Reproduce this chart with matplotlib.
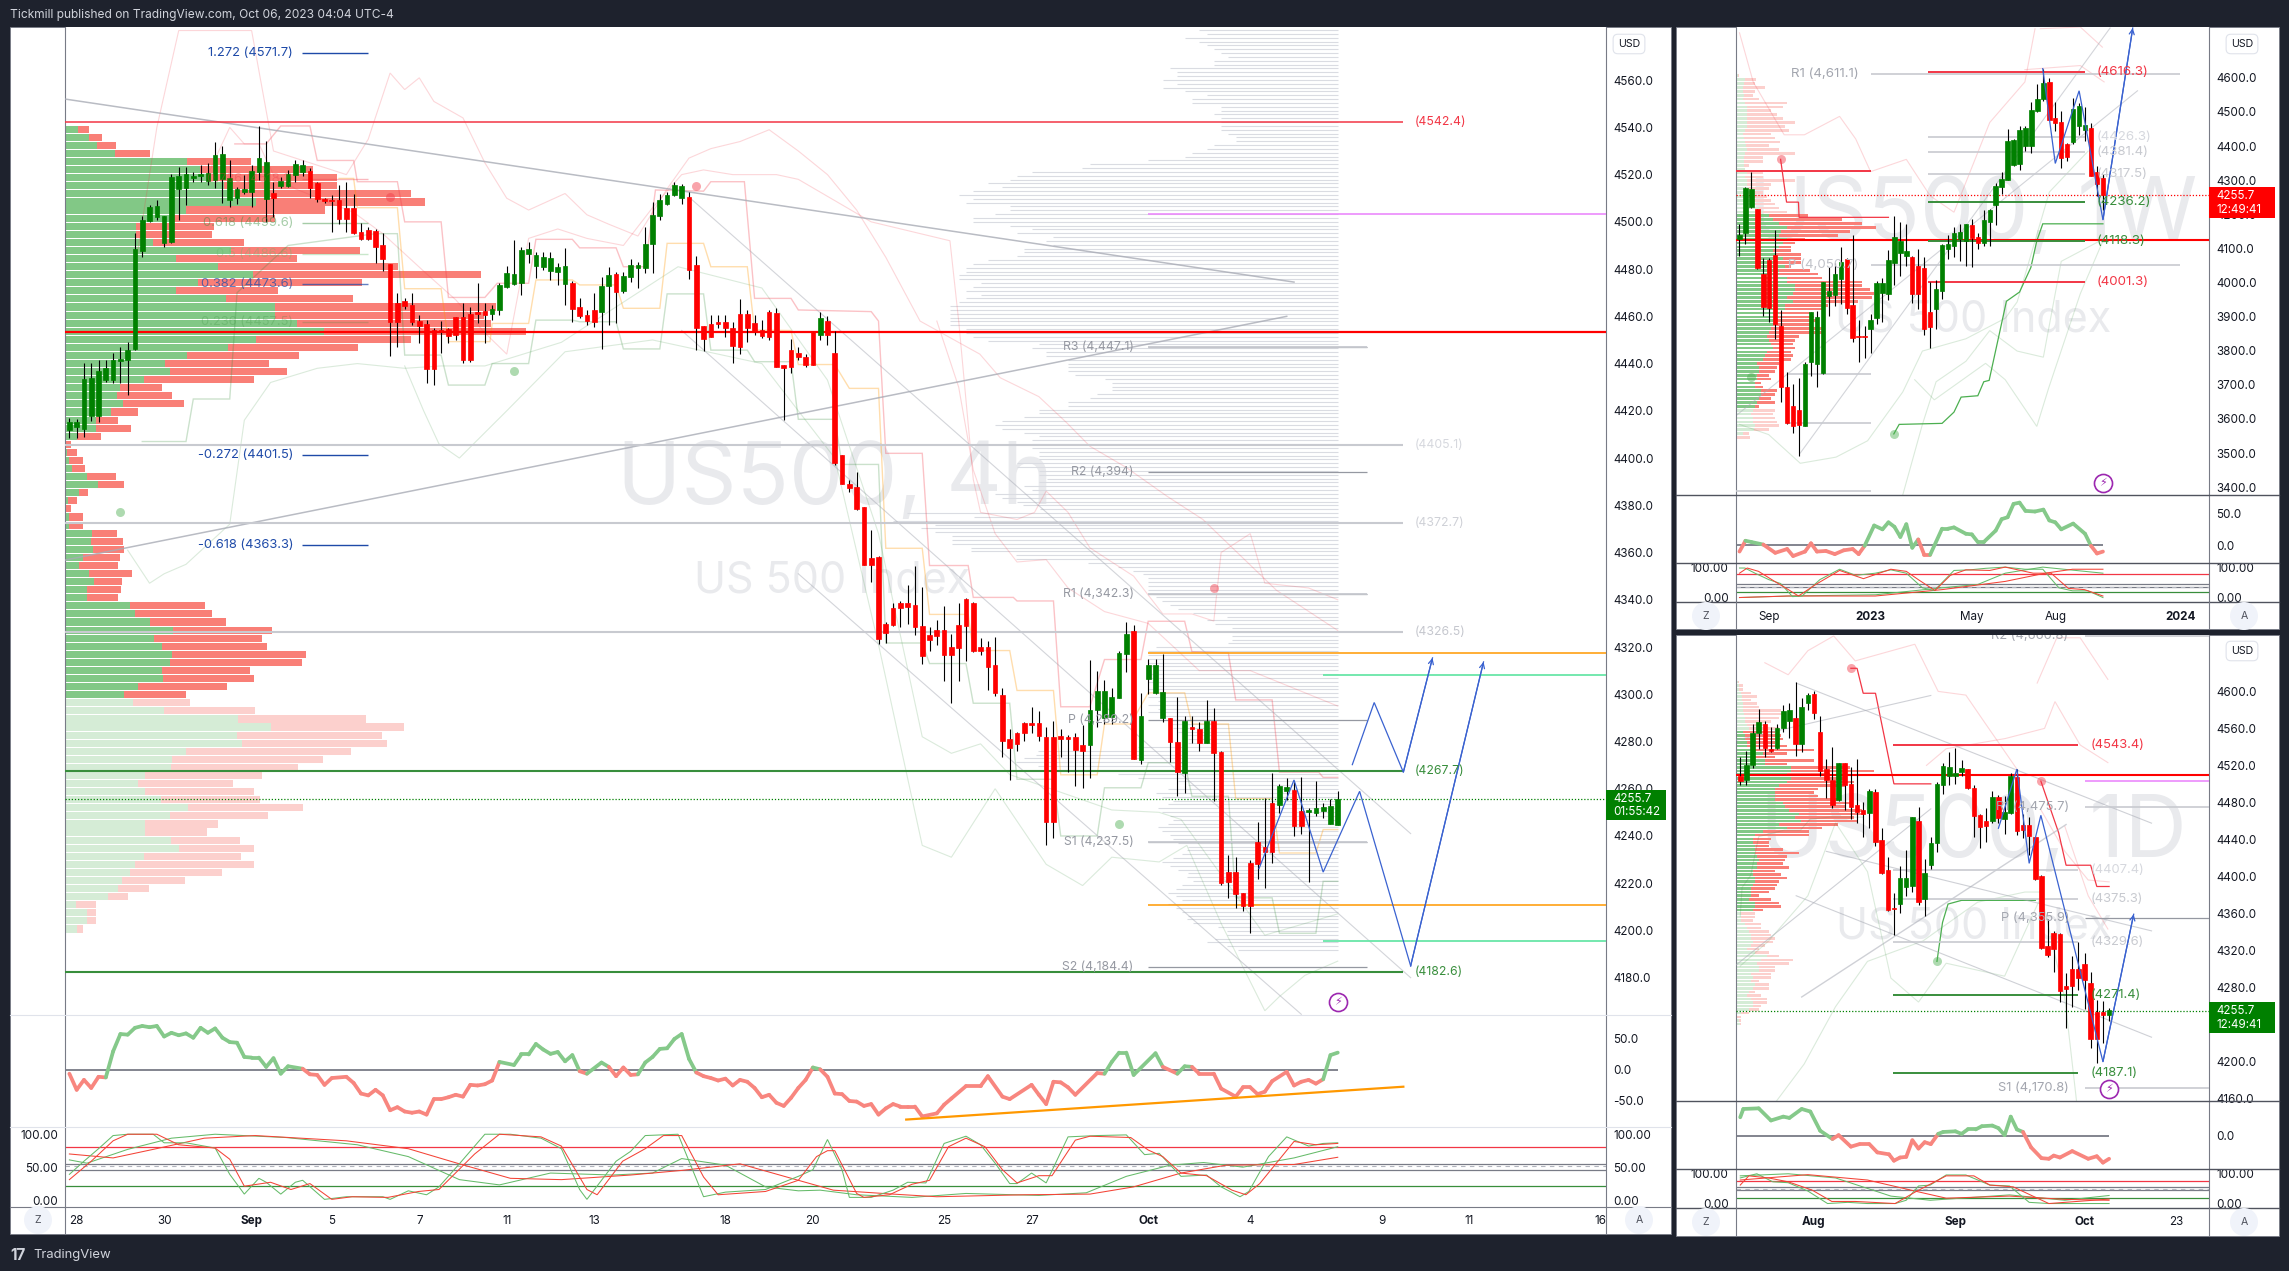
import numpy as np
import matplotlib
matplotlib.use("Agg")
import matplotlib.pyplot as plt
from matplotlib.patches import Rectangle, Ellipse
from matplotlib.lines import Line2D
from matplotlib.collections import LineCollection

W, H = 2289, 1271

# ---- 4h chart
main_open = [4411.9,4413,4412.3,4418,4417.8,4433,4433,4441.2,4441.5,4446.2,
	4487.7,4500.4,4501.9,4490.9,4491.6,4513.9,4514.2,4518.7,4519.4,4517.3,
	4517.7,4518,4509.2,4510,4512.5,4512.5,4521,4509.7,4512.3,4515.2,
	4515.2,4519.8,4521,4521.5,4516.6,4509.7,4509.2,4509.2,4506,4506,
	4495.8,4496.5,4496.1,4490.2,4482.1,4465.5,4466.3,4464.8,4458,4456.8,
	4454.2,4454.2,4454.5,4459.9,4459.9,4461,4461.8,4462.4,4461,4462.7,
	4472.5,4473.7,4474,4486.4,4481.3,4481,4479.3,4478.6,4473.8,4474,
	4463.8,4460.6,4462.7,4461.8,4472.8,4477.9,4470.7,4476.5,4480.5,4480.5,
	4490.6,4502.5,4507.5,4511.4,4510.2,4510.6,4481.7,4455.9,4456.6,4457.7,
	4457.7,4454.9,4461,4461,4457.3,4454.2,4461.7,4461.5,4439.4,4445.7,
	4444.4,4442.7,4453.3,4452.2,4458,4444.4,4401.3,4389,4387.7,4379.3,
	4357.7,4358.1,4329.7,4336.7,4338.5,4338.8,4337.7,4328.7,4325,4327.4,
	4327.1,4319.9,4329.3,4340.4,4338.8,4319.8,4319.8,4312.2,4299.5,4280.9,
	4283.8,4287.7,4288,4287.7,4281.9,4281.9,4282.3,4281.9,4281.9,4278.5,
	4278.5,4293.3,4290.1,4290.4,4298.6,4317,4326.8,4272.2,4306.5,4300.5,
	4289.9,4289.9,4279.8,4266.7,4286.1,4285.3,4279.4,4288.7,4275.6,4224.8,
	4224.8,4215.9,4228.6,4237.5,4235.3,4254,4253.1,4259,4259.5,4250.6,
	4250.1,4249.7,4250.6,4245.1,4244.7]
main_close = [4415.4,4415.3,4433.5,4434,4436.9,4438.1,4441.5,4442,4445.7,4488.5,
	4500.8,4506.4,4506.7,4502.5,4519.1,4519.4,4520.2,4519.4,4520.2,4520.8,
	4528.3,4528.7,4518.7,4513.8,4513.9,4521.5,4527,4525.3,4510.2,4517.4,
	4520.4,4524.5,4524,4514.2,4509.7,4508.7,4508.8,4501.2,4501.2,4495.4,
	4492.7,4492.7,4489.5,4484.3,4457.7,4457.7,4464.4,4457.7,4456,4437.6,
	4437.6,4453.5,4451.8,4452.1,4441.5,4441.5,4461,4460.6,4463.1,4473.3,
	4478.2,4477.9,4488,4488.4,4486,4485,4484.5,4481,4481.3,4463.2,
	4460.1,4458.2,4457.6,4472.8,4477.5,4470.3,4477.1,4481.7,4481.7,4490.6,
	4502.9,4509.2,4511.4,4515.6,4515.2,4479.6,4455,4450.4,4451.1,4456.8,
	4454.9,4447.6,4446.9,4454.9,4453.5,4451.8,4451.4,4438.7,4438.3,4438.4,
	4442.9,4439.6,4439.5,4459.3,4452.2,4397.7,4389.1,4387.3,4378.4,4354.8,
	4354.8,4323.2,4326,4329.4,4336.6,4337,4328.5,4316.3,4323,4324.6,
	4316.6,4316.6,4319.5,4329,4318.3,4318.5,4311.5,4300.6,4280.4,4277.2,
	4279,4283.5,4287.1,4282.3,4245.9,4245.9,4280.9,4281.2,4276.4,4276,
	4293.3,4301.4,4301.4,4298.8,4317.5,4325.5,4272.6,4290.8,4312.4,4312.4,
	4301,4279.9,4267.1,4288.7,4285.3,4279.4,4288.7,4275.1,4220.1,4220.5,
	4215.4,4210.4,4210.4,4228.3,4233.2,4233.2,4261.2,4260.7,4244.2,4244.2,
	4251.1,4251.9,4252.3,4252.7,4255.7]
main_high = [4416.8,4416.4,4440.1,4440.1,4441.5,4441.5,4444.3,4447.2,4449.3,4495.1,
	4502.5,4507.1,4509.2,4502.5,4520.2,4523.4,4523.4,4521.2,4524,4524.8,
	4533.6,4532.2,4526.2,4514.9,4519.8,4524,4540.4,4534.2,4517,4519.1,
	4522,4526.2,4526.2,4522.6,4517,4509.9,4511.4,4515.6,4517,4512,
	4499.6,4498,4496.8,4495.1,4482.1,4469.7,4467.6,4469.7,4460.6,4458.4,
	4454.9,4458,4454.9,4459.9,4465.5,4464.1,4474,4465.5,4464.8,4474.2,
	4481.3,4492.3,4489.2,4491.6,4487.4,4487.4,4487.4,4482.4,4488.8,4475,
	4467.6,4462.7,4469.7,4476.8,4481,4478.9,4478.9,4484.1,4483.1,4498,
	4508.5,4512,4512.8,4516.7,4516,4512.8,4485.5,4455.9,4460.6,4460.6,
	4460.6,4457.7,4467.2,4462.7,4460.6,4458.4,4462.7,4463.4,4439.4,4450.4,
	4447.1,4444,4453.3,4461.8,4460,4453.6,4401.5,4390.7,4394,4379.3,
	4369.4,4358.6,4330.4,4338.8,4339.5,4346.2,4354.2,4345.3,4328.3,4331.6,
	4337.3,4325.3,4338.5,4340.6,4339.2,4323.9,4322.7,4324.2,4302.7,4285.2,
	4284.2,4288.2,4294.7,4293,4286,4288.6,4285.2,4282.8,4283.5,4287,
	4314.5,4309.8,4306,4302.5,4318.3,4330.4,4329.3,4300.4,4314.8,4314.8,
	4317,4289.9,4298.7,4290.8,4290.8,4288.4,4297.6,4294,4276,4232,
	4231.1,4215.9,4229.8,4246.1,4255.9,4266.5,4261.9,4264.4,4263,4264.8,
	4251.7,4263.3,4254,4255.7,4259]
main_low = [4408.4,4408.4,4409.1,4415.8,4415.4,4432.3,4431.6,4431.6,4426.7,4445.7,
	4485.3,4500.1,4500.8,4489.5,4491.2,4500.8,4507.1,4517,4517,4515.6,
	4514.2,4507.8,4506.4,4507.5,4512,4506.4,4517.7,4500.1,4502.2,4514.2,
	4514.9,4517,4519.4,4510,4508.5,4508.1,4495.8,4499.1,4495.8,4494.7,
	4492.3,4492.3,4482.4,4479.3,4443.3,4447.2,4463,4456.3,4448.6,4431.6,
	4430.9,4444.3,4448.6,4450,4440.1,4440.8,4457,4448.6,4458.4,4460.6,
	4471.9,4473.3,4469,4482.4,4476.1,4479.6,4475.4,4473.3,4464.8,4457.7,
	4459.1,4456.3,4455.6,4446.2,4456.3,4457,4469.7,4474.7,4471.9,4478.2,
	4478.2,4500.8,4507.1,4510.9,4507.5,4475.8,4445.7,4445.5,4451.1,4454.9,
	4451.4,4440.1,4444,4449.3,4452.1,4450.7,4450,4438.7,4416.1,4435.9,
	4441.5,4438.6,4439.5,4449.9,4447.8,4396.9,4389.1,4385.6,4378,4354.8,
	4347.5,4321.2,4321.7,4329,4328.5,4329.7,4325,4313,4318.3,4320.7,
	4305.4,4296.2,4305.7,4314.1,4318,4316.6,4302,4299.4,4273.6,4263.8,
	4275.8,4280.1,4283.8,4280.1,4236.1,4239.3,4273.6,4267.2,4261.2,4260.5,
	4264.7,4286.3,4287.3,4287.4,4298.3,4309.6,4272.6,4270.5,4300.1,4300.1,
	4288.4,4271.2,4257,4258.3,4279.2,4276.1,4279.4,4255,4219.3,4213.9,
	4209.4,4208.3,4198.8,4221.7,4217.8,4228.7,4249.6,4255.2,4240,4240.8,
	4220.5,4248.5,4247.6,4245.1,4244.7]

# left volume profile of the 4h chart, buy part and total per row
vp_main_buy = [25,47,63,98,239,264,277,312,332,375,237,212,140,140,172,325,217,300,369,260,
	217,315,412,412,454,507,374,319,239,195,205,155,107,101,113,91,60,60,24,1,
	3,7,13,43,65,27,5,1,7,7,52,50,54,35,27,48,57,44,43,127,
	138,166,212,174,191,209,205,191,193,144,115,
	133,194,340,404,337,346,237,209,207,157,143,157,188,242,205,157,157,207,223,154,
	138,127,111,103,85,21,44,44,23]
vp_main_total = [48,72,99,166,364,487,534,534,678,705,509,412,292,289,350,578,454,652,815,582,
	417,564,844,822,834,903,678,574,458,399,436,370,191,209,233,144,103,129,70,11,
	23,35,39,99,115,46,23,11,35,35,101,113,115,107,103,131,111,109,103,274,
	288,315,405,386,395,472,464,362,370,317,237,
	244,372,589,664,621,632,560,505,456,386,329,370,382,466,397,299,278,342,370,344,
	370,307,235,164,123,60,60,60,35]
# right grey volume profile of the 4h chart, top to bottom
vp_main_grey = [139,131,153,139,131,124,117,110,124,124,168,161,161,175,161,175,153,131,146,146,
	117,117,124,117,117,117,117,110,102,102,124,131,146,153,190,248,256,306,321,328,
	350,336,365,379,365,372,328,328,343,365,365,328,306,321,285,292,285,314,314,321,
	350,365,372,372,379,379,357,365,372,357,372,379,388,388,388,388,388,388,372,372,
	365,350,299,306,292,292,270,270,270,270,263,233,226,226,226,241,248,270,270,299,
	299,314,336,343,336,314,299,306,306,306,299,299,299,321,321,299,299,291,299,314,
	306,343,336,321,315,298,
	431,364,445,403,417,403,386,386,386,367,367,322,322,250,220,205,195,190,190,190,
	190,185,182,176,168,160,145,111,131,123,106,106,106,106,110,182,190,190,190,190,
	190,180,190,190,190,185,190,180,190,180,190,180,190,176,170,170,165,160,155,150,
	150,200,300,302,314,322,300,280,220,200,160,150,170,182,176,165,170,180,176,168,
	165,170,180,176,168,165,160,150,151,156,165,176,168,160,150,151,145,156,162,170,
	162,156,170,162,156,150,151,145,120,111,111,123,131,111,100]

main_up1 = [[9,4480],[12,4540],[15,4581],[25,4581],[28,4530],[33,4525],[38,4520],[41,4535],[44,4563],[46,4556],[48,4561],[50,4551],[54,4544],[57,4525],[60,4510],[63,4505],[68,4512],[71,4503],[74,4499],[78,4494],[82,4514],[85,4527],[88,4531],[92,4534],[96,4539],[100,4530],[104,4520],[108,4505],[112,4485],[116.7,4458],[120.8,4451],[124.9,4444],[127.7,4434],[133,4426],[136.8,4415],[140,4405],[145,4396],[150.5,4384],[155.5,4374],[165.6,4344],[174,4327]]
main_up2 = [[19,4520],[22,4540],[24,4533],[26,4533],[28,4520],[31,4514],[39,4504],[43,4495],[49,4478],[53,4467],[57,4453],[60,4444],[63,4493],[67,4497],[71,4493],[76,4490],[80,4506],[84,4520],[87,4522],[91,4520],[97,4520],[100,4518],[110,4500],[120.8,4492],[122,4458],[124,4391],[125,4377],[130,4374],[132.4,4377],[134,4386],[137,4377],[140,4362],[146,4350],[150,4334],[154,4334],[157,4331],[158,4360],[162,4368],[164,4347],[170,4345],[174,4340]]
main_up3 = [[119,4458],[122,4430],[124,4395],[127,4368],[130,4356],[134,4357],[137,4345],[142,4335],[148,4330],[155,4310],[162,4310],[170,4300],[174,4295]]
main_lo1 = [[8,4361],[11,4347],[13,4351],[16,4355],[22,4372],[24,4416],[27.6,4432],[34,4438],[39.5,4440],[46,4438],[51,4439],[57,4439],[67.5,4449],[83.5,4481],[95,4472],[104,4433],[111,4368],[117,4282],[121,4275],[125,4279],[129,4266],[143,4251],[149.5,4250],[152.5,4247],[164,4198],[174,4207]]
main_lo2 = [[46,4439],[48.6,4420],[50.7,4406],[53.5,4400],[60,4420],[68,4445],[80,4450],[95,4440],[105,4400],[111,4321],[117,4236],[121,4231],[127,4260],[134,4228],[139,4219],[143,4231],[149.5,4229],[153.3,4236],[158,4203],[164,4166],[166,4172],[169.5,4181],[174,4187]]

main_red_stair = [[22.7,4533],[27,4533],[29,4540.6],[33,4540.6],[34,4526],[39,4526],[39.5,4517],[45,4517],[46,4500],[51,4500],[52,4468],[57,4468],[58.7,4474],[63,4474],[64,4492.6],[69,4492.6],[70,4489],[75,4489],[76,4481],[79,4481],[80.4,4513.5],[87,4513],[88,4517],[92.6,4517],[94,4467.6],[99,4467.6],[100,4462.7],[110,4462],[111,4458],[112,4402],[117,4402],[118,4354.5],[123.3,4354.5],[124,4341],[129.5,4341],[130,4339.5],[135,4339.5],[136,4294.7],[140,4294.7],[142,4314.7],[147,4314.7],[148,4330.9],[153,4330.9],[154,4318],[159,4317.5],[160,4297.6],[165,4297.6],[166,4267],[171.4,4267],[172,4264.8],[174,4264.8]]
main_orange_stair = [[37,4518.4],[39,4518.4],[39.5,4506],[45,4506],[46,4471.7],[51,4471.7],[52,4449.3],[57.7,4449.3],[58,4457],[63,4457],[64,4475.4],[69,4475.4],[70,4473.3],[75,4473.3],[76,4463.4],[81,4463.4],[82,4490.9],[87,4490.9],[88,4481],[93,4481],[94,4454.2],[99,4454],[100,4439.6],[105,4439.6],[107,4429.5],[111,4429.5],[112,4361.8],[117,4361.8],[118,4333.8],[123.3,4333.8],[124,4318.5],[129,4318.5],[130,4301.6],[135,4301.6],[136,4265.9],[141,4265.9],[142,4287.4],[145.6,4287.4],[148,4300.6],[153,4300.6],[154,4287.4],[159,4287.4],[160,4255.8],[165,4255.8],[166,4232.8],[171,4232.8],[172,4242.7],[174,4242.7]]
main_green_stair = [[10,4407],[16,4407],[17,4425],[22,4425],[23,4470],[30,4490],[42,4495],[45,4495],[46,4443.6],[51,4443.6],[52,4430.9],[57,4430.9],[58,4440],[63,4440],[64,4458.4],[69,4458.4],[70,4457.7],[75,4457.7],[76,4446.2],[81,4446.2],[82,4469.5],[87,4469.5],[88,4445.7],[93,4445.7],[94,4440.8],[99,4440.8],[100,4416.4],[105,4416.4],[106,4397.3],[111,4397.3],[112,4321.7],[117,4321.7],[118,4313],[123,4313],[124,4296.2],[129,4296.2],[130,4264],[135,4264],[136,4240],[141,4240],[142,4260.4],[147,4260.4],[148,4271],[153,4271],[154,4256.8],[159,4256.8],[160,4213.8],[165,4213.8],[166,4198.8],[171,4198.8],[172,4220.8],[174,4220.8]]

main_rsi_idx = [0,1,2,3,4,5,6,7,8,9,10,11,12,13,14,15,16,17,18,19,20,21,22,23,24,25,26,27,28,29,30,32,33,34,35,36,38,39,40,41,42,43,44,45,46,47,48,49,50,51,52,53,54,55,56,57,58,59,61,62,63,64,65,66,67,68,69,70,71,73,74,75,76,77,78,79,80,81,82,83,84,85,86,87,88,89,90,91,92,93,94,95,96,97,98,99,100,101,102,103,104,105,106,107,108,109,110,111,112,113,114,115,116,117,119,120,121,123,125,126,128,129,132,133,134,135,136,137,138,141,142,143,144,145,146,149,150,152,153,154,155,157,158,160,161,162,163,164,165,167,168,169,170,171,172,173,174]
main_rsi_val = [-6,-32,-16,-29,-11,-12,30,58,57,68,71,69,71,54,60,56,59,52,68,60,67,52,45,44,21,20,20,5,19,-6,6,2,-7,-8,-24,-13,-11,-21,-38,-41,-32,-41,-65,-60,-67,-69,-67,-72,-47,-47,-44,-40,-43,-24,-25,-23,-17,13,8,25,25,42,33,26,29,14,24,-2,-6,12,5,-10,4,-8,-7,12,21,34,35,50,58,18,-4,-10,-13,-17,-14,-25,-16,-19,-29,-44,-40,-53,-58,-45,-29,-16,4,1,-11,-38,-39,-50,-51,-58,-55,-72,-62,-55,-59,-59,-59,-75,-70,-56,-46,-26,-26,-10,-43,-47,-24,-40,-55,-19,-20,-28,-40,-5,-6,13,28,28,-8,27,5,-6,6,5,-6,-6,-30,-43,-28,-28,-39,-35,-18,-3,-25,-19,-16,-22,-15,24,28]

main_fast_g = [[0,39],[2,59],[4,78],[6,98],[8,100],[11.5,100],[13,87],[16,87],[20,79],[22,39],[24,9],[26,33],[27,27],[29,9],[31,27],[32,30],[35,1],[38,5],[43,5],[44,1],[46.5,14],[49,8],[50.7,20],[53.5,55],[57,100],[60.5,100],[64.7,94],[67.5,78],[70,16],[71,1],[75,59],[77,74],[79,98],[83.5,100],[87,5],[90,12],[95.5,16],[100,36],[102,46],[104,92],[106,46],[107,4],[110,4],[113,15],[115,27],[117.5,26],[120,86],[123,97],[125,84],[127,56],[129,25],[130,25],[132,41],[134,26],[137,96],[141,98],[145,99],[147.5,69],[149.5,71],[152.5,36],[156,38],[158,20],[160.6,5],[161.8,13],[164.5,66],[167,96],[170,82],[172,86],[174,87]]
main_fast_r = [[0,31],[3,59],[6,90],[8,100],[12,100],[15,84],[20,79],[22,62],[24,21],[27.6,27],[30.4,16],[33,25],[36,1],[38.8,5],[43.7,4],[47.9,13],[50.7,16],[55.6,70],[59,100],[64.7,96],[67.5,82],[71,16],[72.4,8],[75.9,59],[79,78],[81.5,98],[84,98],[87,35],[89,8],[95.5,13],[100,30],[102.5,66],[104,75],[105,75],[108,10],[109,4],[112.5,8],[115.6,24],[118,30],[120.6,81],[123,94],[125.6,81],[128,46],[130,26],[133,37],[134.8,37],[138,91],[140,97],[145.6,95],[148,76],[150,66],[152.5,41],[156,37],[159.5,15],[161.4,8],[163.3,25],[168,89],[171,84],[174,86]]
main_slow_g = [[0,61],[2.4,56],[8,77],[14,94],[20,100],[29.7,95],[39.5,84],[46.5,66],[53.5,31],[59,23],[66,41],[74.5,38],[80,41],[84,63],[90,53],[95.5,20],[100,14],[103,15],[108,8],[115.6,4],[123,10],[133,7],[139.5,11],[145,36],[151,53],[155.6,57],[161,50],[168,64],[174,81]]
main_slow_r = [[0,70],[6,64],[11.5,77],[18.5,94],[25.5,98],[38,90],[46.5,78],[53.5,55],[60.5,33],[67.5,31],[77,38],[84,45],[92,55],[100,30],[104.8,15],[113,9],[119,5],[131,8],[140,9],[146,20],[152.5,41],[158.7,53],[168,54],[174,65]]

main_date_pos = [1,13,25,36,48,60,72,90,102,120,132,148,162,180,192,210]
main_date_lab = ["28","30","Sep","5","7","11","13","18","20","25","27","Oct","4","9","11","16"]

# ---- weekly chart
week_open = [4128,4144,4221,4215,4026,4066,4080,3871,3694,3638,3626,3580,3766,3761,3736,3961,3963,4010,4068,3934,3842,3842,3865,3897,3969,3967,4057,4086,4077,4074,4048,4042,3914,3922,3976,4098,4108,4127,4122,4169,4132,4116,4178,4227,4280,4301,4344,4347,4401,4401,4502,4537,4587,4483,4470,4405,4411,4458,4447,4452,4323,4306]
week_high = [4172,4280,4323,4215,4072,4072,4155,3919,3737,3703,3721,3766,3914,3916,4002,4044,4056,4104,4072,4140,3889,3871,3909,4005,4014,4096,4194,4176,4172,4077,4098,4074,4002,4008,4114,4140,4164,4172,4172,4185,4146,4212,4215,4292,4325,4450,4421,4460,4459,4529,4582,4627,4600,4529,4502,4409,4541,4526,4514,4469,4341,4317]
week_low = [4077,4112,4218,4041,3901,3883,3835,3650,3584,3560,3491,3578,3727,3694,3733,3901,3931,3937,3909,3825,3766,3778,3793,3877,3883,3949,3993,4020,4047,3940,3921,3847,3809,3865,3952,4068,4074,4062,4048,4044,4098,4106,4108,4170,4260,4299,4341,4331,4385,4379,4500,4532,4475,4445,4335,4355,4407,4431,4415,4311,4254,4212]
week_close = [4139,4277,4274,4043,3928,3925,3877,3694,3587,3578,3581,3760,3914,3898,4000,3976,4024,4060,3925,3837,3840,3839,3889,3999,3999,4066,4133,4122,4092,3967,3967,3864,3870,3981,4110,4112,4144,4148,4171,4129,4116,4184,4213,4282,4303,4415,4417,4447,4452,4506,4537,4585,4477,4469,4366,4367,4509,4517,4462,4313,4289,4255.7]

vp_w_top = [[6,9],[24,52],[22,50],[20,75],[18,50],[22,45],[20,60],[24,130],[28,120],[30,90],[28,105],[28,120],[30,150],[28,125],[25,135],[20,90],[22,100],[24,112],[27,85],[28,110],[24,150],[22,70],[22,70],[22,35],[25,25],[30,70],[25,70],[30,150],[30,90],[32,85],[30,70],[32,80],[40,90],[50,100],[60,110],[70,130]]
vp_w_mid = [[85,185],[95,270],[110,320],[130,355],[115,290],[110,260],[130,175],[120,150],[110,140],[95,140],[100,165],[120,165],[105,165],[125,140],[110,190],[110,210],[130,220],[130,320],[150,320],[150,340],[145,350],[130,345],[145,310],[125,235],[125,225],[110,190],[110,200],[105,210],[95,195],[90,220],[85,220],[80,160],[85,150],[90,145],[95,150],[80,140],[75,145],[70,140],[55,110],[60,105],[60,100],[55,85],[55,90],[50,65],[50,70],[65,105],[65,100],[60,90],[55,100],[50,60]]
vp_w_bot = [[45,100],[40,95],[45,100],[45,105],[50,110],[48,85],[20,35],[5,38],[3,5],[3,5],[3,5],[3,5],[3,5],[3,5]]

week_rsi_idx = [0,1,2,4,6,8,9,11,12,13,14.5,16,17.5,19,20,21,22.6,24,25,26,27,28,29,30,31,32,34,35,36,38,39,40,41,43,44,45,46,47,48,49.6,51,52,53,54,56,58,59,60,61]
week_rsi_val = [-10,7,5,1,-12,-6,-17,-10,3,-10,-9,-14,-8,-6,-14,-1,31,25,36,29,13,33,-4,9,-15,-15,26,26,28,18,17,5,5,23,41,44,65,67,54,53,56,39,36,25,34,18,-1,-13,-10]
week_fast_g = [[0,97],[0.9,97],[2.6,80],[4.9,59],[6.9,46],[8.9,3],[10.5,5],[13.5,59],[16.8,93],[19.5,73],[22.8,80],[25.4,91],[28,80],[30.7,32],[32.7,23],[36,89],[38.7,91],[41.3,96],[44.6,100],[47.9,93],[50.9,93],[53.6,32],[55.9,22],[58.5,22],[61,0]]
week_fast_r = [[0,80],[1.3,97],[3.2,86],[5.9,53],[8.2,26],[9.9,5],[12.8,43],[16.8,89],[20.8,62],[25.4,93],[28,86],[30,59],[32.8,23],[35.4,73],[38,91],[42,89],[44.6,100],[49.3,80],[52.3,80],[55.2,30],[57.9,26],[61,5]]
week_slow_g = [[0,0],[8.2,5],[22.8,9],[34,32],[40,43],[44.6,80],[50.9,100],[61,80]]
week_slow_r = [[0,0],[8.2,5],[22.8,5],[34,26],[44.6,53],[51.3,80],[55.9,93],[61,93]]
week_pink = [[[0,4732],[2.3,4588],[7.5,4433],[10.9,4433],[16.8,4487],[19.5,4421],[22,4325],[28,4361],[32,4254],[36,4206],[42,4469],[47.9,4588],[49.6,4744]],
	[[50.5,4744],[57.2,4749],[60.9,4690]],
	[[47.9,4624],[57.2,4636],[61.2,4588]]]
week_faint_green = [[[0,3584],[4.9,3554],[10.2,3470],[16.2,3488],[21.5,3536],[27.4,3679],[30.7,3799],[38,3835],[44.6,3895],[46.6,3943],[52,4265],[58.5,4385]],
	[[27.4,3377],[30.7,3584],[33,3709],[38,3769],[42,3859],[46.6,3799],[51,3781],[54,4062],[60.5,4122]],
	[[29.4,3715],[32.7,3656],[41.3,3763],[44.6,3715],[49.9,3578],[51.9,3691],[57.2,3967],[61,4122]]]
week_green_curve = [[25.9,3556],[26.8,3584],[34,3587],[36,3620],[37.2,3664],[40,3668],[41,3709],[41.9,3713],[44.8,3945],[47,3972],[48.9,4044],[49.9,4122],[50.9,4172],[61,4172]]
week_red_stair = [[6.9,4361],[7.9,4235.6],[9.9,4235.6],[10,4191],[25,4191]]
week_blue = [[50.9,4627],[53,4349],[57,4562],[61,4184],[66,4746]]
week_date_pos = [4.9,22,38.9,53,74]
week_date_lab = ["Sep","2023","May","Aug","2024"]

# ---- daily chart
day_open = [4508,4504,4520,4555,4565,4538,4539,4560,4568,4571,4543,4587,4597,4556,4516,4504,4483,4523,4500,4477,4472,4469,4491,4439,4407,4366,4370,4388,4389,4460,4376,4412,4436,4499,4509,4509,4513,4516,4496,4466,4460,4460,4486,4462,4469,4507,4455,4456,4443,4400,4325,4339,4338,4281,4300,4300,4305,4285,4253,4253,4250]
day_high = [4529,4536,4565,4581,4568,4562,4565,4585,4587,4610,4593,4598,4600,4573,4527,4540,4523,4523,4518,4527,4480,4494,4494,4452,4421,4382,4411,4428,4464,4475,4419,4442,4502,4523,4534,4539,4526,4516,4499,4467,4474,4492,4488,4487,4512,4516,4467,4464,4443,4401,4354,4341,4339,4295,4314,4329,4317,4297,4266,4265,4258]
day_low = [4499,4499,4517,4538,4529,4535,4538,4556,4550,4530,4535,4580,4570,4508,4485,4474,4481,4472,4462,4458,4443,4452,4433,4403,4363,4337,4360,4379,4383,4369,4357,4408,4426,4489,4499,4500,4509,4494,4442,4431,4437,4458,4458,4446,4467,4445,4441,4423,4396,4321,4313,4296,4264,4236,4259,4277,4257,4214,4198,4220,4244]
day_close = [4503,4520,4555,4567,4539,4535,4560,4579,4580,4543,4583,4596,4577,4514,4504,4477,4523,4499,4475,4470,4467,4492,4437,4404,4364,4365,4398,4398,4464,4372,4404,4436,4500,4519,4518,4512,4517,4495,4465,4453,4454,4486,4463,4470,4508,4449,4450,4444,4397,4322,4315,4321,4276,4278,4281,4290,4288,4224,4224,4250,4255.7]

vp_d_top = [[6,10],[10,20],[10,18],[14,40],[16,55],[16,40],[20,55],[18,60],[20,115],[22,120],[24,110],[25,90],[30,80],[35,110]]
vp_d_mid = [[20,100],[25,115],[25,120],[30,100],[30,130],[45,200],[70,130],[50,100],[75,200],[75,130],[140,290],[140,350],[130,240],[140,280],[130,300],[110,280],[100,210],[100,200],[100,210],[100,260],[120,290],[125,280],[135,320],[160,325],[150,300],[165,310],[110,260],[130,220],[70,185],[50,185],[45,90],[45,85],[50,85],[50,120],[50,160],[55,130],[60,125],[55,120],[55,135],[45,100],[45,115],[50,130],[50,110],[45,105],[40,100],[40,85],[40,60],[35,90],[50,110],[50,115],[45,70]]
vp_d_bot = [[15,50],[15,50],[15,45],[25,65],[30,65],[35,85],[40,90],[40,100],[45,95],[40,75],[30,60],[50,85],[80,110],[65,145],[55,135],[60,100],[60,100],[40,90],[45,90],[40,60],[50,85],[45,85],[35,50],[30,65],[40,80],[45,80],[45,65],[35,60],[15,35],[5,15],[10,14],[12,14]]

day_rsi_idx = [0,0.5,3,5,7,8,10,11.4,13,15,16,18,19.4,21,22.3,24.2,25,26,27,28,29,30,31,32.2,33,35,36,37,38.3,39.3,41,42,43,44,45,46,47.3,49,50.2,51,52,54,56.6,58,59,60]
day_rsi_val = [29,42,43,24,30,28,42,38,8,-5,1,-17,-13,-13,-26,-29,-39,-34,-33,-7,-20,-10,-13,3,6,7,3,10,10,15,16,12,1,30,10,6,-18,-35,-36,-31,-34,-24,-36,-32,-42,-36]
day_fast_g = [[0,86],[2.7,100],[5.3,73],[7.8,70],[11,42],[14.2,0],[17.5,4],[20.7,0],[25.2,0],[27,11],[29,59],[30.9,62],[33.5,96],[36.7,96],[40.6,62],[43.8,59],[47,4],[50.2,0],[60,0]]
day_fast_r = [[0,62],[1.4,93],[4.6,86],[7.8,73],[11.7,45],[14.9,7],[18.7,7],[25.2,0],[28.4,38],[33.5,93],[38,93],[40.6,62],[44.4,56],[47.6,25],[50.2,0],[60,15]]
day_slow_g = [[0,93],[7.8,100],[15.5,86],[24.5,25],[30.9,11],[43.8,29],[52.8,11],[60,27]]
day_slow_r = [[0,79],[11,97],[20.7,79],[28.4,42],[33.5,18],[43.8,25],[52.8,14],[60,11]]
day_pink = [[[4,4631],[7.8,4618],[11,4644],[15.2,4660],[18.7,4633],[28.4,4651],[32.2,4600],[36.7,4596],[39.9,4565],[45,4516]],
	[[48.3,4609],[51.5,4658],[55.3,4658],[59.8,4613]],
	[[30.3,4520],[33.5,4538],[43.1,4549],[49.5,4560],[51.2,4589],[55.3,4542],[59.8,4523]],
	[[48.9,4472],[52.8,4427],[56.6,4396],[60,4394]],
	[[52.8,4454],[56.6,4379],[59.8,4343]]]
day_faint_green = [[[0,4303],[4.6,4330],[11,4379],[15.5,4458],[20.7,4405],[24.5,4290],[29,4264],[33.5,4306],[43,4292],[49,4379],[52.8,4268],[54.7,4157]],
	[[5.9,4157],[10.4,4197],[15.5,4259],[20.7,4308],[29.7,4330],[38.6,4372],[46.3,4383],[48.9,4383]],
	[[0,4357],[0.3,4388],[1.7,4401],[3,4443],[7.2,4450],[9.8,4450],[11.4,4462],[14.7,4464],[20,4464]]]
day_red_stairs = [[[18,4625],[19,4625],[20,4598],[22,4598],[25,4500],[31,4500]],
	[[48.9,4503],[51.8,4447],[53,4412],[57,4412],[58,4389],[60,4389]]]
day_green_stair = [[32,4308],[32.9,4350],[33.8,4370],[36,4374],[48,4374]]
day_blue = [[42,4452],[45,4516],[47,4414],[48.9,4466],[59,4199.5],[64,4359]]
day_date_pos = [12,35,56,71]
day_date_lab = ["Aug","Sep","Oct","23"]

GREEN = "#008000"
RED = "#ff0000"
LINE_RED = "#f23645"
LINE_GREEN = "#388e3c"
GREY = "#b2b5be"
BLUE = "#3a62d0"
TXT = "#131722"
level_size = 8.8

plt.rcParams["font.family"] = ["Inter", "DejaVu Sans"]

fig = plt.figure(figsize=(W / 100, H / 100), dpi=100, facecolor="#1e222d")


def make_pane(left, top, right, bottom, xlim, ylim):
	ax = fig.add_axes([left / W, 1 - bottom / H, (right - left) / W, (bottom - top) / H])
	ax.set_xlim(*xlim)
	ax.set_ylim(*ylim)
	ax.set_facecolor("white")
	for s in ax.spines.values():
		s.set_visible(False)
	ax.spines["left"].set_visible(True)
	ax.spines["right"].set_visible(True)
	ax.spines["left"].set_color("#787b86")
	ax.spines["right"].set_color("#787b86")
	ax.spines["left"].set_linewidth(0.8)
	ax.spines["right"].set_linewidth(0.8)
	ax.set_xticks([])
	ax.yaxis.tick_right()
	ax.tick_params(axis="y", length=0, pad=5, labelsize=8.4, labelcolor=TXT)
	return ax


def panel(x0, y0, x1, y1):
	fig.add_artist(Rectangle((x0 / W, 1 - y1 / H), (x1 - x0) / W, (y1 - y0) / H,
		transform=fig.transFigure, facecolor="white", edgecolor="#787b86", linewidth=0.6, zorder=-1))


def px_line(x0, x1, y, color, lw=0.8):
	fig.add_artist(Line2D([x0 / W, x1 / W], [1 - y / H, 1 - y / H], color=color, linewidth=lw, zorder=20))


def candles(ax, o, h, l, c, width):
	o, h, l, c = map(np.array, (o, h, l, c))
	x = np.arange(len(o))
	ax.vlines(x, l, h, color="black", linewidth=0.8, zorder=5)
	colors = [GREEN if c[i] >= o[i] else RED for i in x]
	ax.bar(x, np.abs(c - o), bottom=np.minimum(o, c), width=width, color=colors,
		edgecolor=colors, linewidth=0.5, zorder=6)


def profile(ax, top, step, buy, total, scale, left, fade, height=0.88):
	buy = np.array(buy) * scale
	total = np.array(total) * scale
	y = top - step * np.arange(len(buy))
	g = ["#d5ecd6" if fade[i] else "#82c886" for i in range(len(buy))]
	r = ["#fcd0cd" if fade[i] else "#f97f77" for i in range(len(buy))]
	ax.barh(y, buy, left=left, height=step * height, color=g, linewidth=0, zorder=1)
	ax.barh(y, total - buy, left=left + buy, height=step * height, color=r, linewidth=0, zorder=1)


def path(ax, pts, color, lw=0.8, alpha=1.0, zorder=2):
	pts = np.array(pts)
	ax.plot(pts[:, 0], pts[:, 1], color=color, linewidth=lw, alpha=alpha, zorder=zorder, solid_joinstyle="miter")


def arrow_path(ax, pts, lw=0.9):
	path(ax, pts, BLUE, lw=lw, zorder=7)
	ax.annotate("", xy=pts[-1], xytext=pts[-2], annotation_clip=False,
		arrowprops=dict(arrowstyle="->", color=BLUE, lw=lw, mutation_scale=9, shrinkA=0, shrinkB=0), zorder=7)


def rsi(ax, idx, val, last, lw=2.7):
	idx = np.array(idx, dtype=float)
	val = np.array(val, dtype=float)
	segs = [[(idx[i], val[i]), (idx[i + 1], val[i + 1])] for i in range(len(idx) - 1)]
	cols = ["#85c98a" if val[i] + val[i + 1] >= 0 else "#f8867f" for i in range(len(idx) - 1)]
	ax.add_collection(LineCollection(segs, colors=cols, linewidths=lw, capstyle="round", zorder=3))
	ax.hlines(0, ax.get_xlim()[0], last, color="#787b86", linewidth=1.3, zorder=2)


def stoch(ax, fast_g, fast_r, slow_g, slow_r, upper, lower, mid1, mid2, dash):
	xl = ax.get_xlim()
	ax.hlines(upper, *xl, color=LINE_RED, linewidth=0.9, zorder=1)
	ax.hlines(lower, *xl, color=LINE_GREEN, linewidth=0.9, zorder=1)
	ax.hlines([mid1, mid2], *xl, color="#787b86", linewidth=0.9, zorder=1)
	ax.hlines(dash, *xl, color=GREY, linewidth=0.8, linestyle=(0, (4, 4)), zorder=1)
	path(ax, slow_g, "#66bb6a", lw=0.75, zorder=2)
	path(ax, slow_r, "#f44336", lw=0.75, zorder=2)
	path(ax, fast_g, "#66bb6a", lw=0.75, zorder=3)
	path(ax, fast_r, "#f44336", lw=0.75, zorder=3)


def date_axis(ax, pos, lab, bold):
	ax.set_xticks(pos)
	ax.set_xticklabels(lab, fontsize=8.4, color=TXT)
	ax.tick_params(axis="x", length=0, pad=6)
	for t in ax.get_xticklabels():
		if t.get_text() in bold:
			t.set_fontweight("bold")


def level(ax, price, x0, x1, color, label=None, lx=None, ha="left", tcolor=None, lw=1.1, alpha=1.0):
	ax.hlines(price, x0, x1, color=color, linewidth=lw, alpha=alpha, zorder=4)
	if label:
		ax.text(lx, price, label, ha=ha, va="center", fontsize=level_size, color=tcolor or color, zorder=8, clip_on=True)


def price_tag(x0, x1, y0, y1, color, a, b):
	fig.add_artist(Rectangle((x0 / W, 1 - y1 / H), (x1 - x0) / W, (y1 - y0) / H,
		transform=fig.transFigure, facecolor=color, edgecolor="none", zorder=30))
	fig.text((x0 + 7) / W, 1 - (y0 + 9) / H, a, color="white", fontsize=8.4, va="center", zorder=31)
	fig.text((x0 + 7) / W, 1 - (y1 - 8) / H, b, color="white", fontsize=8.4, va="center", zorder=31)


def corner(x, y, s):
	fig.add_artist(Ellipse((x / W, 1 - y / H), 28 / W, 28 / H, transform=fig.transFigure,
		facecolor="#f0f3fa", edgecolor="none", zorder=30))
	fig.text(x / W, 1 - y / H, s, ha="center", va="center", fontsize=7.6, color="#50535e", zorder=31)


def usd(x, y):
	fig.text(x / W, 1 - y / H, "USD", ha="center", va="center", fontsize=7.6, color=TXT, zorder=31,
		bbox=dict(boxstyle="round,pad=0.45", fc="white", ec="#e0e3eb", lw=0.8))


def bolt(ax, x, y):
	ax.plot([x], [y], marker="o", markersize=13, mfc="white", mec="#9c27b0", mew=1.2, zorder=9, clip_on=False)
	ax.text(x, y, "\u26a1", ha="center", va="center", fontsize=8, color="#9c27b0", zorder=10, family="DejaVu Sans")


def dots(ax, xs, ys, color):
	ax.scatter(xs, ys, s=42, color=color, alpha=0.45, linewidths=0, zorder=5)


fig.text(10 / W, 1 - 15 / H, "Tickmill published on TradingView.com, Oct 06, 2023 04:04 UTC-4",
	color="#d1d4dc", fontsize=8.6, va="center")
fig.text(33 / W, 1 - 1255 / H, "TradingView", color="#d1d4dc", fontsize=9.4, va="center")
fig.text(10 / W, 1 - 1255 / H, "17", color="#d1d4dc", fontsize=11, va="center", fontweight="bold")

panel(10, 27, 1671, 1234)
panel(1676, 27, 2279, 629)
panel(1676, 635, 2279, 1236)

# ---------------------------------------- 4h
xlim_main = (-0.6, 210.8)
ax = make_pane(65, 27, 1606, 1015, xlim_main, (4164.2, 4582.5))
ax.set_yticks(np.arange(4180, 4561, 20))
ax.set_yticklabels(["%.1f" % v for v in np.arange(4180, 4561, 20)])

ax.text(105, 4390, "US500, 4h", fontsize=62, color="#e9eaed", ha="center", va="center", zorder=0)
ax.text(104.6, 4348, "US 500 Index", fontsize=31, color="#e9eaed", ha="center", va="center", zorder=0)

# grey profile, right aligned on the last bar
vp_y = 4581.2 - 1.623 * np.arange(len(vp_main_grey))
ax.hlines(vp_y, 174 - np.array(vp_main_grey) / 7.29, 174, color="#dadce2", linewidth=0.8, zorder=1)

n_main_vp = len(vp_main_buy)
profile(ax, 4539.2, 3.42, vp_main_buy, vp_main_total, 0.07, -0.6, [i >= 71 for i in range(n_main_vp)])

for band in (main_up1, main_up2, main_up3):
	path(ax, band, LINE_RED, alpha=0.2)
for band in (main_lo1, main_lo2):
	path(ax, band, LINE_GREEN, alpha=0.18)
path(ax, main_red_stair, LINE_RED, lw=1, alpha=0.3)
path(ax, main_orange_stair, "#ff9800", lw=1, alpha=0.32)
path(ax, main_green_stair, LINE_GREEN, lw=1, alpha=0.26)

# trend lines and channel
for a, b, lw, al in (([-0.6, 4552], [168, 4474.5], 1.1, 0.8), ([-0.6, 4356.8], [167, 4460], 1.1, 0.8),
		([85, 4510.5], [184, 4241], 0.8, 0.5), ([84, 4454], [184, 4180], 0.8, 0.5), ([100, 4351], [169, 4164.5], 0.8, 0.5)):
	path(ax, [a, b], "#a8abb5", lw=lw, alpha=al, zorder=3)

level(ax, 4542.4, -0.6, 183, LINE_RED, "(4542.4)", 184.6)
level(ax, 4453.4, -0.6, 210.8, RED, lw=1.6)
level(ax, 4405.4, -0.6, 183, "#c8cad0", "(4405.1)", 184.6, tcolor="#d6d8de", lw=1.5)
level(ax, 4372.7, -0.6, 183, "#c8cad0", "(4372.7)", 184.6, tcolor="#cfd1d7", lw=1.5)
level(ax, 4326.5, -0.6, 183, "#c8cad0", "(4326.5)", 184.6, tcolor="#c5c7ce", lw=1.5)
level(ax, 4267.7, -0.6, 183, LINE_GREEN, "(4267.7)", 184.6, lw=1.5)
level(ax, 4182.6, -0.6, 183, LINE_GREEN, "(4182.6)", 184.6, lw=1.5)
level(ax, 4317.3, 148, 210.8, "#ff9800")
level(ax, 4210.7, 148, 210.8, "#ff9800")
level(ax, 4308.3, 172, 210.8, "#69e6a8", lw=1.3)
level(ax, 4195.6, 172, 210.8, "#69e6a8", lw=1.3)
level(ax, 4503.2, 148, 210.8, "#ea80fc")
for price, name in ((4447.1, "R3 (4,447.1)"), (4394, "R2 (4,394)"), (4342.3, "R1 (4,342.3)"),
		(4289.2, "P (4,289.2)"), (4237.5, "S1 (4,237.5)"), (4184.4, "S2 (4,184.4)")):
	level(ax, price, 148, 178, "#9598a1", name, 146, ha="right", tcolor="#9598a1", lw=0.9)
ax.hlines([4447.1, 4342.3, 4237.5], 148, 178, color="#c8cad0", linewidth=1.3, zorder=4)
for price, name, col, al in ((4571.7, "1.272 (4571.7)", "#1e4aa8", 1), (4518.1, "0.786 (4518.1)", "#f23645", 0.35),
		(4499.6, "0.618 (4499.6)", "#388e3c", 0.45), (4486.6, "0.5 (4486.6)", "#66bb6a", 0.35),
		(4473.6, "0.382 (4473.6)", "#1e4aa8", 0.7), (4457.5, "0.236 (4457.5)", "#388e3c", 0.25),
		(4401.5, "-0.272 (4401.5)", "#1e4aa8", 1), (4363.3, "-0.618 (4363.3)", "#1e4aa8", 1)):
	ax.hlines(price, 31.9, 40.9, color=col, linewidth=1, alpha=al, zorder=4)
	ax.text(30.7, price, name, ha="right", va="center", fontsize=9.3, color=col, alpha=al, zorder=8)

ax.hlines(4255.7, -0.6, 210.8, color=GREEN, linewidth=0.9, linestyle=(0, (1, 1.5)), zorder=4)
candles(ax, main_open, main_high, main_low, main_close, 0.64)
dots(ax, [61, 7, 144], [4437, 4377, 4245], "#4caf50")
dots(ax, [44, 86, 157], [4510.6, 4515, 4345], "#f23645")
path(ax, [[163.2, 4226.2], [168, 4263.7], [172, 4224.7], [177, 4258.9], [184, 4185]], BLUE, lw=0.9, zorder=7)
arrow_path(ax, [[184, 4185], [194, 4313.7]])
arrow_path(ax, [[176, 4270.2], [179, 4296.5], [183, 4267], [187, 4315.4]])
bolt(ax, 174, 4169.7)

# rsi of the 4h chart
ax2 = make_pane(65, 1015, 1606, 1127, xlim_main, (-92, 88.7))
rsi(ax2, main_rsi_idx, main_rsi_val, 174)
path(ax2, [[114.8, -80], [183, -27]], "#ff9800", lw=1.6, zorder=4)
ax2.set_yticks([-50, 0, 50])
ax2.set_yticklabels(["-50.0", "0.0", "50.0"])

# stochastic of the 4h chart
ax3 = make_pane(65, 1127, 1606, 1207, xlim_main, (-10.6, 111))
stoch(ax3, main_fast_g, main_fast_r, main_slow_g, main_slow_r, 80, 22, 54, 45, 52)
ax3.set_yticks([0, 50, 100])
ax3.set_yticklabels(["0.00", "50.00", "100.00"])
ax3.tick_params(axis="y", labelleft=True, labelright=True)
date_axis(ax3, main_date_pos, main_date_lab, ("Sep", "Oct"))

for yy in (1015, 1127):
	px_line(10, 1671, yy, "#e0e3eb")
px_line(10, 1671, 1207, "#787b86")
fig.add_artist(Line2D([65 / W, 65 / W], [1 - 1234 / H, 1 - 1207 / H], color="#787b86", linewidth=0.8, zorder=20))
fig.add_artist(Line2D([1606 / W, 1606 / W], [1 - 1234 / H, 1 - 1207 / H], color="#787b86", linewidth=0.8, zorder=20))
price_tag(1606, 1666, 790, 820, GREEN, "4255.7", "01:55:42")
corner(38, 1220, "Z")
corner(1639, 1220, "A")
usd(1629, 44)

# ---------------------------------------- weekly
level_size = 9.6
xlim_week = (-0.67, 78.8)
ax = make_pane(1735.5, 27, 2209, 495, xlim_week, (3377, 4749))
ax.set_yticks(np.arange(3400, 4601, 100))
ax.set_yticklabels(["%.1f" % v for v in np.arange(3400, 4601, 100)])
ax.text(39.2, 4194, "US500, 1W", fontsize=62, color="#e9eaed", ha="center", va="center", zorder=0, clip_on=True)
ax.text(39.2, 3890, "US 500 Index", fontsize=31, color="#e9eaed", ha="center", va="center", zorder=0)
w_rows = vp_w_top + vp_w_mid + vp_w_bot
w_fade = [i < len(vp_w_top) or i >= len(vp_w_top) + len(vp_w_mid) for i in range(len(w_rows))]
profile(ax, 4606, 11.4, [r[0] for r in w_rows], [r[1] for r in w_rows], 0.0662, -0.67, w_fade, height=0.7)
for band in week_pink:
	path(ax, band, LINE_RED, alpha=0.2)
for band in week_faint_green:
	path(ax, band, LINE_GREEN, alpha=0.18)
path(ax, week_green_curve, "#4caf50", lw=0.9)
path(ax, week_red_stair, LINE_RED, lw=0.9)
path(ax, [[10.2, 3500], [62.2, 4746]], "#a8abb5", alpha=0.5)
path(ax, [[-0.7, 3608], [66.8, 4562]], "#a8abb5", alpha=0.5)
level(ax, 4124.4, -0.67, 78.8, RED, lw=1.5)
level(ax, 4611, 22, 74, "#c8cad0", "R1 (4,611.1)", 20, ha="right", tcolor="#a3a6af", lw=1.2)
level(ax, 4050, 22, 74, "#c8cad0", "P (4,050.7)", 20, ha="right", tcolor="#c0c2c9", lw=1.2)
level(ax, 4617, 31.7, 58, LINE_RED, "(4616.3)", 60, lw=1.4)
level(ax, 4427, 31.7, 58, "#c8cad0", "(4426.3)", 60, tcolor="#d6d8de", lw=1.2)
level(ax, 4383, 31.7, 58, "#c8cad0", "(4381.4)", 60, tcolor="#c8cad0", lw=1.2)
level(ax, 4318, 31.7, 58, "#c8cad0", "(4317.5)", 60, tcolor="#c8cad0", lw=1.2)
level(ax, 4237, 31.7, 58, LINE_GREEN, "(4236.2)", 60, lw=1.4)
level(ax, 4121, 31.7, 58, LINE_GREEN, "(4118.3)", 60, lw=1.4)
level(ax, 4002, 31.7, 58, LINE_RED, "(4001.3)", 60, lw=1.4)
level(ax, 4328, -0.67, 22, LINE_RED, lw=1.4)
ax.hlines([3732, 3587, 3390], [8, 8, -0.67], 22, color="#c8cad0", linewidth=1.2, zorder=4)
ax.hlines(4255.7, -0.67, 78.8, color=RED, linewidth=0.9, linestyle=(0, (1, 1.5)), zorder=4)
candles(ax, week_open, week_high, week_low, week_close, 0.74)
dots(ax, [6.9], [4361], "#f23645")
dots(ax, [25.9, 1.9], [3556, 3724], "#4caf50")
arrow_path(ax, week_blue)
bolt(ax, 61, 3413)

ax2 = make_pane(1735.5, 495, 2209, 563, xlim_week, (-28, 79))
rsi(ax2, week_rsi_idx, week_rsi_val, 61)
ax2.set_yticks([0, 50])
ax2.set_yticklabels(["0.0", "50.0"])

ax3 = make_pane(1735.5, 563, 2209, 602.4, xlim_week, (-16, 113.5))
stoch(ax3, week_fast_g, week_fast_r, week_slow_g, week_slow_r, 77, 18, 46, 36, 36)
ax3.set_yticks([0, 100])
ax3.set_yticklabels(["0.00", "100.00"])
ax3.tick_params(axis="y", labelleft=True, labelright=True)
date_axis(ax3, week_date_pos, week_date_lab, ("2023", "2024"))

for yy in (495, 563, 602.4):
	px_line(1676, 2279, yy, "#50535e", lw=1)
for xx in (1735.5, 2209):
	fig.add_artist(Line2D([xx / W, xx / W], [1 - 629 / H, 1 - 602.4 / H], color="#787b86", linewidth=0.8, zorder=20))
price_tag(2209, 2275, 187, 218, RED, "4255.7", "12:49:41")
corner(1706, 616, "Z")
corner(2244, 616, "A")
usd(2242, 44)

# ---------------------------------------- daily
level_size = 9.3
xlim_day = (-0.77, 76.25)
ax = make_pane(1735.5, 635, 2209, 1101, xlim_day, (4157, 4661))
ax.set_yticks(np.arange(4160, 4601, 40))
ax.set_yticklabels(["%.1f" % v for v in np.arange(4160, 4601, 40)])
ax.text(38, 4445, "US500, 1D", fontsize=62, color="#e9eaed", ha="center", va="center", zorder=0, clip_on=True)
ax.text(38, 4345, "US 500 Index", fontsize=31, color="#e9eaed", ha="center", va="center", zorder=0)
d_rows = vp_d_top + vp_d_mid + vp_d_bot
d_fade = [i < len(vp_d_top) or i >= len(vp_d_top) + len(vp_d_mid) for i in range(len(d_rows))]
profile(ax, 4610, 3.85, [r[0] for r in d_rows], [r[1] for r in d_rows], 0.0642, -0.77, d_fade, height=0.7)
for band in day_pink:
	path(ax, band, LINE_RED, alpha=0.2)
for band in day_faint_green:
	path(ax, band, LINE_GREEN, alpha=0.18)
for band in day_red_stairs:
	path(ax, band, LINE_RED, lw=0.9)
path(ax, day_green_stair, "#4caf50", lw=0.9)
for a, b, lw in (([9.1, 4609], [66.9, 4457.5], 0.8), ([9.1, 4379], [66.9, 4226], 0.8), ([10, 4269.5], [53, 4456], 1.0),
		([-0.8, 4547], [31, 4595.6], 0.8), ([-0.8, 4303.5], [31, 4473], 0.8), ([14, 4427], [66.9, 4341], 0.8)):
	path(ax, [a, b], "#a8abb5", lw=lw, alpha=0.55, zorder=3)
level(ax, 4509.7, -0.77, 76.25, RED, lw=1.5)
level(ax, 4542, 24.8, 55, LINE_RED, "(4543.4)", 57, lw=1.4)
level(ax, 4659.7, 56, 76.25, "#c8cad0", "R2 (4,660.8)", 53.3, ha="right", tcolor="#a3a6af", lw=1.2)
level(ax, 4502.7, 56, 76.25, "#ea80fc")
level(ax, 4475.2, 56, 76.25, "#c8cad0", "R1 (4,475.7)", 53.5, ha="right", tcolor="#a3a6af", lw=1.2)
level(ax, 4406.6, 24.8, 55, "#c8cad0", "(4407.4)", 57, tcolor="#d6d8de", lw=1.2)
level(ax, 4375.2, 24.8, 55, "#c8cad0", "(4375.3)", 57, tcolor="#c8cad0", lw=1.2)
level(ax, 4355.3, 56, 76.25, "#9598a1", "P (4,355.9)", 53.5, ha="right", tcolor="#a3a6af", lw=0.9)
level(ax, 4328.8, 24.8, 55, "#c8cad0", "(4329.6)", 57, tcolor="#c8cad0", lw=1.2)
level(ax, 4271.7, 24.8, 55, LINE_GREEN, "(4271.4)", 57, lw=1.4)
level(ax, 4187, 24.8, 55, LINE_GREEN, "(4187.1)", 57, lw=1.4)
level(ax, 4170.8, 56, 76.25, "#c8cad0", "S1 (4,170.8)", 53.5, ha="right", tcolor="#a3a6af", lw=1.2)
ax.hlines(4254.5, -0.77, 76.25, color=GREEN, linewidth=0.9, linestyle=(0, (1, 1.5)), zorder=4)
candles(ax, day_open, day_high, day_low, day_close, 0.74)
dots(ax, [18, 48.9], [4625, 4503], "#f23645")
dots(ax, [32], [4308], "#4caf50")
arrow_path(ax, day_blue)
bolt(ax, 60, 4170)

ax2 = make_pane(1735.5, 1101, 2209, 1169, xlim_day, (-52, 54.5))
rsi(ax2, day_rsi_idx, day_rsi_val, 60)
ax2.set_yticks([0])
ax2.set_yticklabels(["0.0"])

ax3 = make_pane(1735.5, 1169, 2209, 1208, xlim_day, (-15, 116))
stoch(ax3, day_fast_g, day_fast_r, day_slow_g, day_slow_r, 77, 18, 55, 45, 50)
ax3.set_yticks([0, 100])
ax3.set_yticklabels(["0.00", "100.00"])
ax3.tick_params(axis="y", labelleft=True, labelright=True)
date_axis(ax3, day_date_pos, day_date_lab, ("Aug", "Sep", "Oct"))

for yy in (1101, 1169, 1208):
	px_line(1676, 2279, yy, "#50535e", lw=1)
for xx in (1735.5, 2209):
	fig.add_artist(Line2D([xx / W, xx / W], [1 - 1236 / H, 1 - 1208 / H], color="#787b86", linewidth=0.8, zorder=20))
price_tag(2209, 2275, 1002, 1033, GREEN, "4255.7", "12:49:41")
corner(1706, 1222, "Z")
corner(2244, 1222, "A")
usd(2242, 651)

fig.savefig("out.png", dpi=100, facecolor=fig.get_facecolor())
